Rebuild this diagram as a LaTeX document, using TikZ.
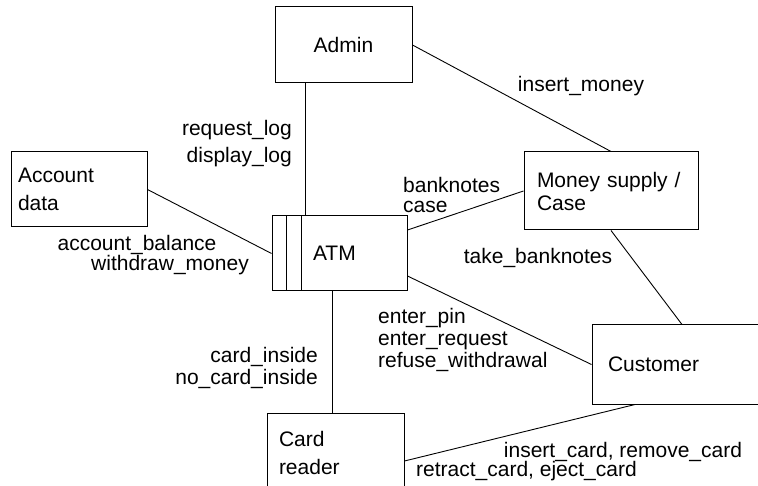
\documentclass[tikz,border=0pt]{standalone}
\usepackage{fontspec}
\setmainfont{Liberation Sans}
\begin{document}
\begin{tikzpicture}[x=1pt, y=-1pt,
        box/.style={draw, line width=1pt, inner xsep=7pt, align=left, font=\fontsize{21}{28}\selectfont},
        link/.style={line width=0.9pt},
        msg/.style={inner sep=0pt, font=\fontsize{21}{22}\selectfont}
    ]
        \useasboundingbox (0,0) rectangle (758,486);
        \clip (0,0) rectangle (758,486);

        % Boxes
        \node[box, align=center, text width=123pt, minimum height=76pt] (admin) at (343.5,45) {Admin};
        \node[box, text width=122pt, minimum height=75pt] (acct) at (79,189.5) {Account\\data};
        \node[box, text width=121pt, minimum height=75pt] (atm) at (339.5,253.5) {\hspace*{34pt}ATM};
        \node[box, inner xsep=13pt, text width=148pt, minimum height=78pt, font=\fontsize{21}{23}\selectfont] (money) at (611,191) {Money supply /\\Case};
        \node[box, inner xsep=16pt, text width=148pt, minimum height=79pt] (cust) at (682,364.5) {\raisebox{-3pt}{Customer}};
        \node[box, inner xsep=12pt, text width=113pt, minimum height=80pt] (card) at (335.5,453) {Card\\reader};

        % ATM side bars
        \draw[line width=1pt] ([xshift=15pt]atm.north west) -- ([xshift=15pt]atm.south west);
        \draw[line width=1pt] ([xshift=30pt]atm.north west) -- ([xshift=30pt]atm.south west);

        % Connectors
        \draw[link] (admin.east) -- (money.north);
        \draw[link] ([xshift=-38pt]admin.south) -- ([xshift=-38pt]admin.south |- atm.north);
        \draw[link] (acct.east) -- (atm.west);
        \draw[link] ([yshift=23.5pt]atm.east) -- (money.west);
        \draw[link] ([yshift=-22.5pt]atm.east) -- (cust.west);
        \draw[link] (money.south) -- (cust.north);
        \draw[link] ([xshift=-7.5pt]atm.south) -- ([xshift=-7.5pt]atm.south |- card.north);
        \draw[link] ([yshift=-8pt]card.east) -- ([xshift=-47pt]cust.south);

        % Messages
        \node[msg, anchor=east, align=right, font=\fontsize{21}{27}\selectfont] (logmsg) at (292,143.5) {request\_log\\display\_log};
        \node[msg] (moneymsg) at (581,86) {insert\_money};
        \node[msg, anchor=west, align=left, font=\fontsize{21}{20}\selectfont] (notesmsg) at (403,195) {banknotes\\case};
        \node[msg] (takemsg) at (538,258) {take\_banknotes};
        \node[msg] (balmsg) at (137,245) {account\_balance};
        \node[msg] (drawmsg) at (170,265) {withdraw\_money};
        \node[msg, anchor=west, align=left] (pinmsg) at (378,340) {enter\_pin\\enter\_request\\refuse\_withdrawal};
        \node[msg, anchor=east, align=right] (cardmsg) at (318,368) {card\_inside\\no\_card\_inside};
        \node[msg] (insmsg) at (623,452) {insert\_card, remove\_card};
        \node[msg] (retmsg) at (526.5,471) {retract\_card, eject\_card};
    \end{tikzpicture}
\end{document}
